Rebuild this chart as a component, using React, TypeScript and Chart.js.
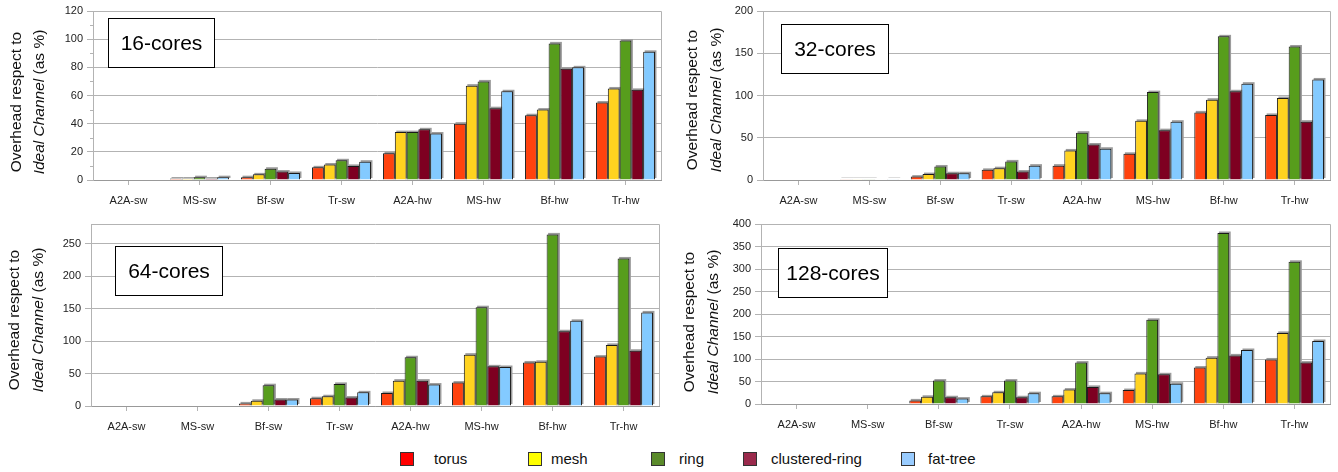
import React, { useEffect, useRef } from 'react';
import { Chart, registerables } from 'chart.js';

Chart.register(...registerables);

const FONT = '"Liberation Sans", Arial, Helvetica, sans-serif';

const categories = ['A2A-sw', 'MS-sw', 'Bf-sw', 'Tr-sw', 'A2A-hw', 'MS-hw', 'Bf-hw', 'Tr-hw'];
const seriesNames = ['torus', 'mesh', 'ring', 'clustered-ring', 'fat-tree'];
const barColors = ['#ff420e', '#ffd320', '#579d1c', '#7e0021', '#83caff'];
const legendColors = ['#ff0000', '#ffff00', '#5a8a2a', '#9a2a4c', '#99ccff'];

// 16-cores
const torus16 = [0, 1, 2, 9, 19, 40, 46, 55];
const mesh16 = [0, 1, 4, 11, 34, 67, 50, 65];
const ring16 = [0, 2, 8, 14, 34, 70, 97, 99];
const cring16 = [0, 1, 6, 10, 36, 51, 79, 64];
const fat16 = [0, 2, 5, 13, 33, 63, 80, 91];

// 32-cores
const torus32 = [0, 1, 4, 12, 17, 31, 80, 77];
const mesh32 = [0, 1, 7, 14, 35, 70, 95, 97];
const ring32 = [0, 1, 16, 22, 56, 104, 170, 158];
const cring32 = [0, 0, 8, 10, 42, 59, 105, 69];
const fat32 = [0, 1, 8, 17, 37, 69, 114, 119];

// 64-cores
const torus64 = [0, 0, 4, 12, 20, 36, 67, 76];
const mesh64 = [0, 0, 8, 15, 39, 79, 68, 94];
const ring64 = [0, 0, 32, 34, 75, 152, 264, 227];
const cring64 = [0, 0, 10, 13, 39, 61, 115, 85];
const fat64 = [0, 0, 10, 21, 33, 60, 131, 144];

// 128-cores
const torus128 = [0, 0, 8, 17, 17, 31, 81, 99];
const mesh128 = [0, 0, 16, 26, 32, 68, 103, 158];
const ring128 = [0, 0, 52, 52, 92, 187, 380, 316];
const cring128 = [0, 0, 15, 15, 38, 66, 108, 92];
const fat128 = [0, 0, 12, 24, 24, 45, 120, 140];

const titles = ['16-cores', '32-cores', '64-cores', '128-cores'];
const yMax = [120, 200, 280, 400];
const yStep = [20, 50, 50, 50];
const yLastLabel = [120, 200, 250, 400];

type PanelCfg = {
  title: string;
  values: number[][];
  max: number;
  step: number;
  lastLabel: number;
  minor: boolean;
  x: number;
  y: number;
  w: number;
  h: number;
  area: { left: number; right: number; top: number; bottom: number };
  box: { dx: number; dy: number; w: number; h: number };
  yt: { x1: number; x2: number; cy: number };
};

const panels: PanelCfg[] = [
  {
    title: titles[0], values: [torus16, mesh16, ring16, cring16, fat16],
    max: yMax[0], step: yStep[0], lastLabel: yLastLabel[0], minor: true,
    x: 0, y: 0, w: 669, h: 212,
    area: { left: 93, right: 661, top: 11, bottom: 180 },
    box: { dx: 15, dy: 7, w: 106, h: 49 },
    yt: { x1: 17, x2: 40, cy: 102 },
  },
  {
    title: titles[1], values: [torus32, mesh32, ring32, cring32, fat32],
    max: yMax[1], step: yStep[1], lastLabel: yLastLabel[1], minor: false,
    x: 669, y: 0, w: 669, h: 212,
    area: { left: 94, right: 661, top: 11, bottom: 180 },
    box: { dx: 18, dy: 13, w: 107, h: 49 },
    yt: { x1: 24, x2: 48, cy: 100 },
  },
  {
    title: titles[2], values: [torus64, mesh64, ring64, cring64, fat64],
    max: yMax[2], step: yStep[2], lastLabel: yLastLabel[2], minor: false,
    x: 0, y: 212, w: 669, h: 228,
    area: { left: 91, right: 659, top: 12, bottom: 194 },
    box: { dx: 24, dy: 22, w: 107, h: 49 },
    yt: { x1: 15, x2: 39, cy: 108 },
  },
  {
    title: titles[3], values: [torus128, mesh128, ring128, cring128, fat128],
    max: yMax[3], step: yStep[3], lastLabel: yLastLabel[3], minor: false,
    x: 669, y: 212, w: 669, h: 228,
    area: { left: 92, right: 661, top: 12, bottom: 192 },
    box: { dx: 17, dy: 24, w: 109, h: 49 },
    yt: { x1: 21, x2: 45, cy: 110 },
  },
];

function makeDecorPlugin(cfg: PanelCfg) {
  return {
    id: 'decor',
    beforeDatasetsDraw(chart: any) {
      const ctx = chart.ctx;
      const a = chart.chartArea;
      ctx.save();
      ctx.beginPath();
      ctx.rect(a.left, a.top - 4, a.right - a.left + 4, a.bottom - a.top + 4);
      ctx.clip();
      ctx.fillStyle = '#9c9c9c';
      chart.data.datasets.forEach((ds: any, i: number) => {
        const meta = chart.getDatasetMeta(i);
        meta.data.forEach((el: any, j: number) => {
          if (!(ds.data[j] > 0)) return;
          const p = el.getProps(['x', 'y', 'base', 'width'], true);
          ctx.fillRect(p.x - p.width / 2 + 1.5, p.y - 1.5, p.width, p.base - p.y);
        });
      });
      ctx.restore();
    },
    afterDraw(chart: any) {
      const ctx = chart.ctx;
      const a = chart.chartArea;
      const ys = chart.scales.y;
      ctx.save();
      // frame
      ctx.strokeStyle = '#b3b3b3';
      ctx.lineWidth = 1;
      ctx.beginPath();
      ctx.moveTo(a.left, a.top + 0.5);
      ctx.lineTo(a.right + 0.5, a.top + 0.5);
      ctx.lineTo(a.right + 0.5, a.bottom);
      ctx.stroke();
      // minor ticks
      if (cfg.minor) {
        for (let v = cfg.step / 2; v < cfg.max; v += cfg.step) {
          const py = Math.round(ys.getPixelForValue(v)) + 0.5;
          ctx.beginPath();
          ctx.moveTo(a.left - 3, py);
          ctx.lineTo(a.left, py);
          ctx.stroke();
        }
      }
      // title box
      const bx = Math.round(a.left + cfg.box.dx) + 0.5;
      const by = Math.round(a.top + cfg.box.dy) + 0.5;
      ctx.fillStyle = '#ffffff';
      ctx.fillRect(bx, by, cfg.box.w, cfg.box.h);
      ctx.strokeStyle = '#000000';
      ctx.strokeRect(bx, by, cfg.box.w, cfg.box.h);
      ctx.fillStyle = '#000000';
      ctx.font = `21px ${FONT}`;
      ctx.textAlign = 'center';
      ctx.textBaseline = 'middle';
      ctx.fillText(cfg.title, bx + cfg.box.w / 2, by + cfg.box.h / 2 + 1);
      // y-axis title
      ctx.fillStyle = '#111111';
      ctx.save();
      ctx.translate(cfg.yt.x1, cfg.yt.cy);
      ctx.rotate(-Math.PI / 2);
      ctx.font = `15.5px ${FONT}`;
      ctx.textAlign = 'center';
      ctx.textBaseline = 'middle';
      ctx.fillText('Overhead respect to', 0, 0);
      ctx.restore();
      ctx.save();
      ctx.translate(cfg.yt.x2, cfg.yt.cy);
      ctx.rotate(-Math.PI / 2);
      ctx.textBaseline = 'middle';
      ctx.textAlign = 'left';
      const italic = `italic 15.5px ${FONT}`;
      const normal = `15.5px ${FONT}`;
      ctx.font = italic;
      const w1 = ctx.measureText('Ideal Channel').width;
      ctx.font = normal;
      const w2 = ctx.measureText(' (as %)').width;
      const start = -(w1 + w2) / 2;
      ctx.font = italic;
      ctx.fillText('Ideal Channel', start, 0);
      ctx.font = normal;
      ctx.fillText(' (as %)', start + w1, 0);
      ctx.restore();
      ctx.restore();
    },
  };
}

function PanelChart({ cfg }: { cfg: PanelCfg }) {
  const ref = useRef<HTMLCanvasElement>(null);
  useEffect(() => {
    if (!ref.current) return;
    const chart = new Chart(ref.current, {
      type: 'bar',
      data: {
        labels: categories,
        datasets: cfg.values.map((v, i) => ({
          label: seriesNames[i],
          data: v,
          backgroundColor: barColors[i],
          borderColor: '#1a1a1a',
          borderWidth: 1,
          borderSkipped: 'bottom',
          categoryPercentage: 0.83,
          barPercentage: 1,
        })),
      },
      options: {
        responsive: false,
        maintainAspectRatio: false,
        animation: false,
        events: [],
        layout: { padding: { top: cfg.area.top, right: cfg.w - cfg.area.right, left: 0, bottom: 0 } },
        plugins: { legend: { display: false }, tooltip: { enabled: false } },
        scales: {
          x: {
            grid: { offset: false, drawOnChartArea: false, drawTicks: true, tickLength: 5, color: '#b3b3b3' },
            border: { color: '#999999' },
            ticks: { font: { family: FONT, size: 11 }, color: '#222222', padding: 9, maxRotation: 0, autoSkip: false },
            afterFit: (s: any) => { s.height = cfg.h - cfg.area.bottom; },
          },
          y: {
            min: 0,
            max: cfg.max,
            ticks: {
              stepSize: cfg.step,
              font: { family: FONT, size: 11 },
              color: '#222222',
              padding: 4,
              callback: (v: any) => (Number(v) > cfg.lastLabel ? null : String(v)),
            },
            grid: { color: '#b3b3b3', tickLength: 6 },
            border: { color: '#b3b3b3' },
            afterFit: (s: any) => { s.width = cfg.area.left; },
          },
        },
      } as any,
      plugins: [makeDecorPlugin(cfg)],
    });
    return () => chart.destroy();
  }, [cfg]);
  return (
    <canvas
      ref={ref}
      width={cfg.w}
      height={cfg.h}
      style={{ position: 'absolute', left: cfg.x, top: cfg.y, width: cfg.w, height: cfg.h, display: 'block' }}
    />
  );
}

const legendSquareX = [400, 528, 651, 743, 901];
const legendTextX = [434, 551, 679, 771, 928];

export default function App() {
  return (
    <div style={{ position: 'absolute', left: 0, top: 0, width: 1338, height: 472, background: '#ffffff', overflow: 'hidden' }}>
      {panels.map((p, i) => (
        <PanelChart key={i} cfg={p} />
      ))}
      {seriesNames.map((n, i) => (
        <React.Fragment key={n}>
          <div
            style={{
              position: 'absolute', left: legendSquareX[i], top: 452, width: 14, height: 14,
              background: legendColors[i], border: '1px solid #333333', boxSizing: 'border-box',
            }}
          />
          <div
            style={{
              position: 'absolute', left: legendTextX[i], top: 450, height: 18, lineHeight: '18px',
              fontFamily: FONT, fontSize: 15, color: '#111111', whiteSpace: 'nowrap',
            }}
          >
            {n}
          </div>
        </React.Fragment>
      ))}
    </div>
  );
}
